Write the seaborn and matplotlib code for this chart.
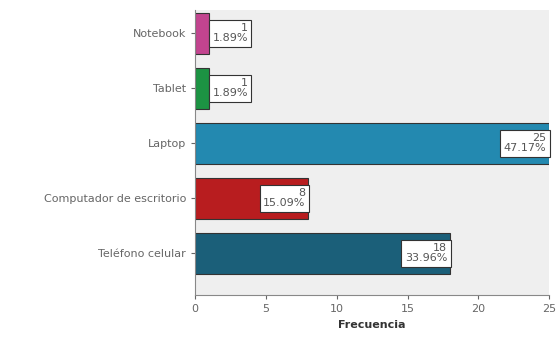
import pandas as pd
import seaborn as sns
import matplotlib.pyplot as plt

# Datos del gráfico
dispositivos = ["Notebook", "Tablet", "Laptop", "Computador de escritorio", "Teléfono celular"]
frecuencias = [1, 1, 25, 8, 18]
porcentajes = ["1.89%", "1.89%", "47.17%", "15.09%", "33.96%"]
colores = ["#c2448f", "#1c9343", "#2389b0", "#b81d1f", "#1b5f79"]

df = pd.DataFrame({"dispositivo": dispositivos, "frecuencia": frecuencias})

sns.set_style("ticks")
fig = plt.figure(figsize=(5.57, 3.38), dpi=100)
ax = fig.add_axes([0.35, 0.127, 0.636, 0.843])
ax.set_facecolor("#efefef")

sns.barplot(
    data=df,
    x="frecuencia",
    y="dispositivo",
    hue="dispositivo",
    palette=colores,
    saturation=1,
    legend=False,
    width=0.75,
    edgecolor="#333333",
    linewidth=0.8,
    ax=ax,
)

# Etiquetas de cada barra: frecuencia y porcentaje
for i, (v, p) in enumerate(zip(frecuencias, porcentajes)):
    if v >= 5:
        xpos, ha = v - 0.2, "right"
    else:
        xpos, ha = v + 0.25, "left"
    ax.text(xpos, i, f"{v}\n{p}", ha=ha, va="center", multialignment="right",
            fontsize=8, color="#555555", linespacing=1.0,
            bbox=dict(boxstyle="square,pad=0.3", fc="white", ec="#333333", lw=0.8))

ax.set_xlim(0, 25)
ax.set_ylim(4.76, -0.42)
ax.set_xticks([0, 5, 10, 15, 20, 25])
ax.set_xlabel("Frecuencia", fontsize=8, fontweight="bold", color="#333333")
ax.set_ylabel("")
ax.tick_params(axis="both", labelsize=8, labelcolor="#666666", color="#666666", length=3)
for s in ["top", "right"]:
    ax.spines[s].set_visible(False)
for s in ["left", "bottom"]:
    ax.spines[s].set_color("#888888")

fig.savefig("out.png", dpi=100)
